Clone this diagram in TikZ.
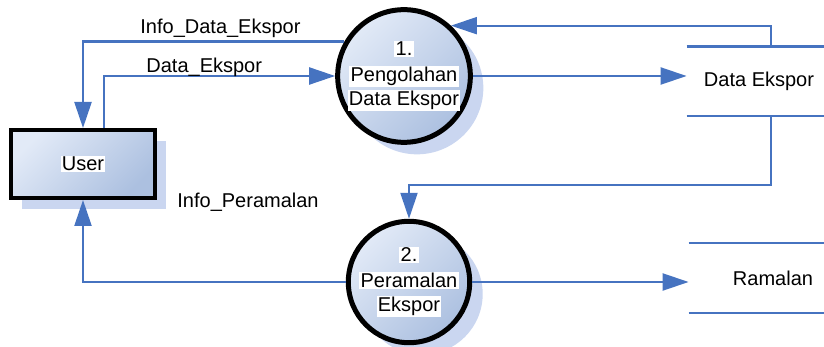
\documentclass[tikz,border=0pt]{standalone}
\usepackage{fontspec}
\setmainfont{Liberation Sans}
\usetikzlibrary{arrows.meta,calc,shadows}
\definecolor{flowblue}{RGB}{70,115,192}
\definecolor{shadeA}{RGB}{226,234,247}
\definecolor{shadeB}{RGB}{172,192,224}
\definecolor{shadowblue}{RGB}{202,214,240}
% text on a tight white patch
\newcommand{\wb}[1]{{\setlength{\fboxsep}{0.6pt}\colorbox{white}{#1}}}
\begin{document}
\begin{tikzpicture}[x=0.5pt,y=-0.5pt,
  font=\fontsize{10}{12}\selectfont,
  flow/.style={draw=flowblue, line width=1.1pt, -{Triangle[length=13pt,width=8.5pt]}},
  storeline/.style={draw=flowblue, line width=1.1pt},
  procbody/.style={shading=axis, top color=shadeA, bottom color=shadeB, shading angle=45, draw=black},
  process/.style={circle, procbody, line width=2.5pt, minimum size=60.5pt, inner sep=0pt, align=center,
     drop shadow={shadow xshift=6.5pt, shadow yshift=-6pt, fill=shadowblue, opacity=1}},
  entity/.style={rectangle, procbody, line width=2pt, minimum width=72pt, minimum height=34pt,
     drop shadow={shadow xshift=5.5pt, shadow yshift=-5.5pt, fill=shadowblue, opacity=1}},
  store/.style={minimum height=34.5pt, inner sep=0pt},
  flowlabel/.style={inner sep=0pt},
]
\useasboundingbox (0,0) rectangle (824,347);

% external entity and processes
\node[entity] (user) at (83,164) {\wb{User}};
\node[process] (p1) at (404,76) {\wb{1.}\\[1pt]\wb{Pengolahan}\\\wb{Data Ekspor}};
\node[process] (p2) at (409,282) {\wb{2.}\\[1pt]\wb{Peramalan}\\\wb{Ekspor}};

% data stores (open on the right)
\node[store, minimum width=72pt] (ds1) at (759,81.5) {Data Ekspor};
\node[store, minimum width=84pt] (ds2) at (773,278) {Ramalan};
\draw[storeline] (ds1.north west) -- ++(150,0);
\draw[storeline] (ds1.south west) -- ++(150,0);
\draw[storeline] (ds2.north west) -- ++(150,0);
\draw[storeline] (ds2.south west) -- ++(150,0);

% data flows
\draw[flow] (p1.150) -| (user.north);
\draw[flow] ($(user.north)+(21,0)$) |- (p1.west);
\draw[flow] (p1.east) -- (p1.east -| ds1.west);
\draw[flow] ($(ds1.north)+(12,0)$) |- (p1.47);
\draw[flow] ($(ds1.south)+(12,0)$) -- ++(0,69) -| (p2.north);
\draw[flow] (p2.west) -| (user.south);
\draw[flow] (p2.east) -- (p2.east -| ds2.west);

% flow labels
\node[flowlabel, anchor=base west] (lblA) at (140,34) {Info\_Data\_Ekspor};
\node[flowlabel, anchor=base west] (lblB) at (146,73) {Data\_Ekspor};
\node[flowlabel, anchor=base west] (lblC) at (177,208) {Info\_Peramalan};
\end{tikzpicture}
\end{document}
